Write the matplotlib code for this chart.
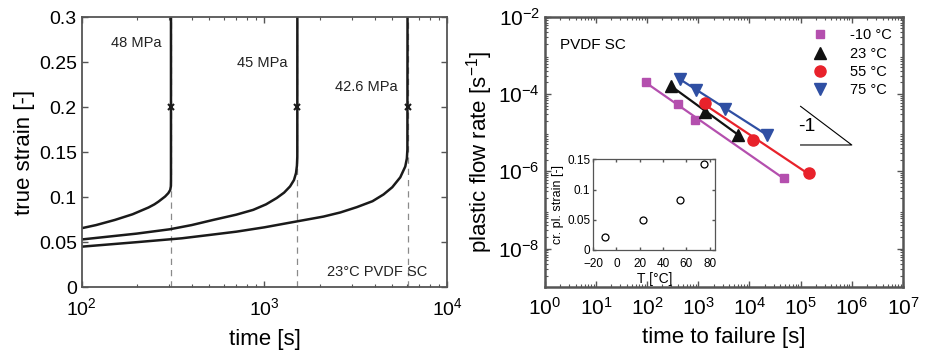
import matplotlib
matplotlib.use("Agg")
import matplotlib.pyplot as plt
import matplotlib.ticker as mticker
import numpy as np

plt.rcParams["font.family"] = ["Liberation Sans", "DejaVu Sans"]
plt.rcParams["mathtext.fontset"] = "custom"
plt.rcParams["mathtext.rm"] = "Liberation Sans"

# ---- left panel: creep curves at 23 C ----
t_48 = [100, 120, 152, 190, 232, 250, 263, 286, 298, 305, 307.5, 308, 308]
e_48 = [0.0655, 0.069, 0.0747, 0.081, 0.0885, 0.092, 0.095, 0.1007, 0.1045, 0.108, 0.112,
        0.12, 0.3]
t_45 = [100, 200, 303, 400, 524, 700, 868, 1020, 1166, 1280, 1380, 1450, 1488, 1505, 1512, 1513]
e_45 = [0.053, 0.0595, 0.0643, 0.069, 0.0747, 0.0805, 0.0859, 0.092, 0.099, 0.105, 0.1119,
        0.119, 0.1268, 0.135, 0.145, 0.3]
t_426 = [100, 200, 353, 500, 704, 1000, 1380, 2100, 2600, 3200, 3900, 4480, 5000, 5530,
         5890, 6010, 6050, 6060]
e_426 = [0.045, 0.050, 0.0543, 0.058, 0.0617, 0.0665, 0.0717, 0.0784, 0.083, 0.0889, 0.0955,
         0.103, 0.111, 0.122, 0.134, 0.143, 0.153, 0.3]
stress_labels = ["48 MPa", "45 MPa", "42.6 MPa"]
label_pos = [(200, 0.271), (970, 0.249), (3600, 0.222)]
failure_times = [308, 1513, 6060]
marker_strain = 0.2

# ---- right panel: flow rate vs time to failure ----
temps = ["-10 °C", "23 °C", "55 °C", "75 °C"]
tf = [
    [95, 405, 850, 48000],
    [300, 1370, 6060],
    [1350, 11700, 148000],
    [445, 890, 3270, 22000],
]
rate = [
    [2.1e-4, 5.6e-5, 2.1e-5, 6.7e-7],
    [1.6e-4, 3.5e-5, 8.9e-6],
    [5.9e-5, 6.3e-6, 9.1e-7],
    [2.45e-4, 1.3e-4, 4.2e-5, 8.9e-6],
]
markers = ["s", "^", "o", "v"]
msizes = [6, 8, 8, 8]
colors = ["#B44FAE", "#111111", "#E8222B", "#2F4FA3"]

# inset: critical plastic strain vs temperature
inset_T = [-10, 23, 55, 75]
inset_strain = [0.022, 0.05, 0.082, 0.142]

spine_col = "#555555"


def style_axes(ax, lw=1.3, size=14, xpad=7):
    for s in ax.spines.values():
        s.set_color(spine_col)
        s.set_linewidth(lw)
    ax.tick_params(which="both", direction="in", top=True, right=True,
                   color=spine_col, labelsize=size)
    ax.tick_params(which="major", length=4, width=1)
    ax.tick_params(which="minor", length=2.5, width=0.8)
    ax.tick_params(axis="x", which="major", pad=xpad)


fig = plt.figure(figsize=(9.28, 3.55), dpi=100)

ax1 = fig.add_axes([0.088, 0.191, 0.394, 0.761])
for tff in failure_times:
    ax1.plot([tff, tff], [0, 0.3], ls=(0, (5, 4)), color="#8a8a8a", lw=0.9, zorder=1)
for t, e in [(t_48, e_48), (t_45, e_45), (t_426, e_426)]:
    ax1.plot(t, e, color="#1a1a1a", lw=1.8, zorder=2, solid_joinstyle="round")
ax1.plot(failure_times, [marker_strain] * 3, "x", color="#1a1a1a", ms=4, mew=1.5, zorder=3)
for lab, (x, y) in zip(stress_labels, label_pos):
    ax1.text(x, y, lab, fontsize=10.5, ha="center", va="center", color="#222222")
ax1.text(4150, 0.017, "23°C PVDF SC", fontsize=10.5, ha="center", va="center", color="#222222")
ax1.set_xscale("log")
ax1.set_xlim(100, 1e4)
ax1.set_ylim(0, 0.3)
ax1.set_yticks([0, 0.05, 0.1, 0.15, 0.2, 0.25, 0.3])
ax1.set_yticklabels(["0", "0.05", "0.1", "0.15", "0.2", "0.25", "0.3"])
ax1.set_xlabel("time [s]", fontsize=16, labelpad=7)
ax1.set_ylabel("true strain [-]", fontsize=16, labelpad=3)
style_axes(ax1)

ax2 = fig.add_axes([0.587, 0.191, 0.386, 0.762])
for i in range(4):
    lx = np.log10(tf[i])
    ly = np.log10(rate[i])
    p = np.polyfit(lx, ly, 1)
    xs = np.array([lx.min(), lx.max()])
    ax2.plot(10 ** xs, 10 ** np.polyval(p, xs), color=colors[i], lw=1.6, zorder=2)
    ax2.plot(tf[i], rate[i], markers[i], color=colors[i], ms=msizes[i],
             ls="none", label=temps[i], zorder=3)
# slope -1 guide
ax2.plot([1e5, 1e6, 1e5], [10 ** -4.32, 10 ** -5.32, 10 ** -5.32], color="black", lw=0.8)
ax2.text(1.35e5, 10 ** -4.85, "-1", fontsize=14, ha="center", va="center")
ax2.text(0.043, 0.895, "PVDF SC", transform=ax2.transAxes, fontsize=11, va="center")
ax2.set_xscale("log")
ax2.set_yscale("log")
ax2.set_xlim(1, 1e7)
ax2.set_ylim(1e-9, 1e-2)
ax2.set_xticks([10.0 ** k for k in range(8)])
ax2.set_yticks([1e-8, 1e-6, 1e-4, 1e-2])
ax2.xaxis.set_minor_locator(mticker.LogLocator(base=10, subs=np.arange(2, 10), numticks=20))
ax2.yaxis.set_minor_locator(mticker.LogLocator(base=10, subs=np.arange(2, 10), numticks=20))
ax2.xaxis.set_minor_formatter(mticker.NullFormatter())
ax2.yaxis.set_minor_formatter(mticker.NullFormatter())
ax2.set_xlabel("time to failure [s]", fontsize=16, labelpad=6)
ax2.set_ylabel("plastic flow rate [s$^{-1}$]", fontsize=16, labelpad=2)
style_axes(ax2, lw=1.8, size=15)
ax2.legend(loc="upper right", frameon=False, fontsize=10.5, handletextpad=1.0,
           labelspacing=0.3, borderaxespad=0.4, markerfirst=True)

ax3 = fig.add_axes([0.639, 0.296, 0.132, 0.255])
ax3.plot(inset_T, inset_strain, "o", mfc="none", mec="black", ms=5, mew=0.9)
ax3.set_xlim(-20, 85)
ax3.set_ylim(0, 0.15)
ax3.set_xticks([-20, 0, 20, 40, 60, 80])
ax3.set_yticks([0, 0.05, 0.1, 0.15])
ax3.set_yticklabels(["0", "0.05", "0.1", "0.15"])
ax3.set_xlabel("T [°C]", fontsize=10, labelpad=1)
ax3.set_ylabel("cr. pl. strain [-]", fontsize=9, labelpad=2)
style_axes(ax3, lw=0.9, size=8.5, xpad=6)
ax3.tick_params(which="major", length=2.5)
ax3.tick_params(axis="y", pad=2)

fig.savefig("out.png", dpi=100)
